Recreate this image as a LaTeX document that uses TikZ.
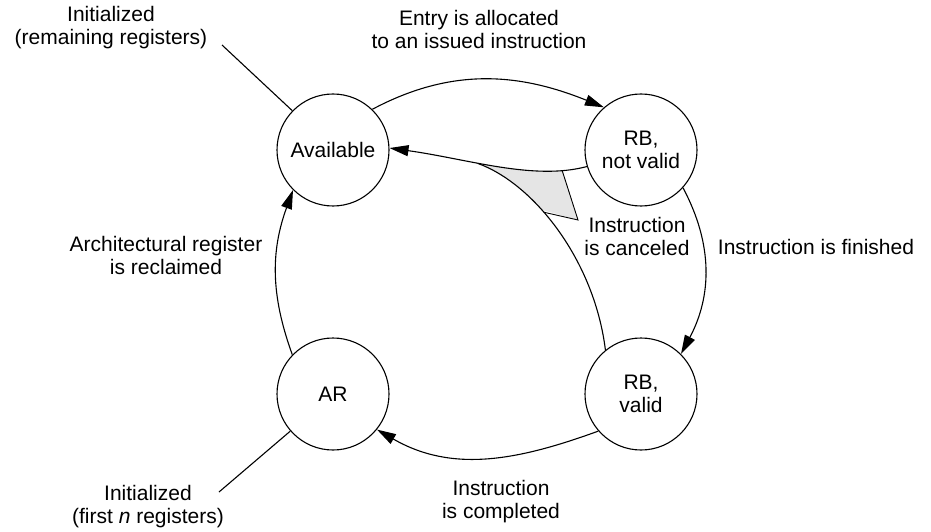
\documentclass[tikz,border=0pt]{standalone}
\usepackage{fontspec}
\setmainfont{Liberation Sans}
\usetikzlibrary{arrows.meta,calc}
\newcommand\dgfont{\fontsize{21}{23}\selectfont}
\begin{document}
\begin{tikzpicture}[x=1pt,y=1pt,
  state/.style={circle,draw,line width=1.1pt,minimum size=112pt,inner sep=0pt,align=center,font=\dgfont},
  lbl/.style={align=center,font=\dgfont,inner sep=0pt},
  conn/.style={line width=1.1pt},
  arr/.style={conn,-{Triangle[length=19pt,width=11pt]}},
  thin edge/.style={line width=0.9pt,line join=miter}]
\useasboundingbox (0,0) rectangle (931,531);

% states
\node[state] (Av) at (333,381) {Available};
\node[state] (RBnv) at (641,381) {RB,\\not valid};
\node[state] (RBv) at (641,137) {RB,\\valid};
\node[state] (AR) at (333,137) {AR};

% labels
\node[lbl] (Lir) at (111,503.5) {Initialized\\(remaining registers)};
\node[lbl] (Lent) at (479,502) {Entry is allocated\\to an issued instruction};
\node[lbl] (Larch) at (166,276) {Architectural register\\is reclaimed};
\node[lbl] (Lcan) at (637,295) {Instruction\\is canceled};
\node[lbl] (Lfin) at (816,284) {Instruction is finished};
\node[lbl] (Lcomp) at (501,29.5) {Instruction\\is completed};
\node[lbl] (Lin) at (148,24) {Initialized\\(first \textit{n} registers)};

% helper coordinates
\coordinate (ir) at (222,486);
\coordinate (inn) at (219,39);
\coordinate (p2) at (578,311);
\coordinate (k1) at ($(RBnv.197)+(195:55)$);
\coordinate (k2) at ($(Av.2)+(-8:80)$);
\path (RBnv.197) .. controls (k1) and (k2) .. (Av.2) coordinate[pos=0.15] (p1) coordinate[pos=0.6] (m);
\coordinate (b1) at ($(RBv.129)+(97:90)$);
\coordinate (b2) at ($(m)+(-20:60)$);
\path (RBv.129) .. controls (b1) and (b2) .. (m) coordinate[pos=0.6] (p3);

% gray wedge
\begin{scope}
  \clip (RBv.129) .. controls (b1) and (b2) .. (m) -- (m |- 0,460) -- (720,460) -- (720,180) -- cycle;
  \clip (RBnv.197) .. controls (k1) and (k2) .. (Av.2) -- (Av.2 |- 0,250) -- (600,250) -- (600,364.6) -- cycle;
  \fill[gray!20] (557,379) -- (p2) -- (500,333) -- (450,381) -- cycle;
\end{scope}
\draw[thin edge] (p1) -- (p2) -- (p3);

% connectors
\draw[arr] (Av.46) to[out=28,in=158] (RBnv.131);
\draw[arr] (RBnv.-42) to[out=-62,in=62] (RBv.45);
\draw[arr] (RBv.221) to[out=200,in=-30] (AR.-39);
\draw[arr] (AR.136) to[out=110,in=-110] (Av.225);
\draw[arr] (RBnv.197) .. controls (k1) and (k2) .. (Av.2);
\draw[conn] (RBv.129) .. controls (b1) and (b2) .. (m);
\draw[conn] (ir) -- (Av.136);
\draw[conn] (inn) -- (AR.221);
\end{tikzpicture}
\end{document}
